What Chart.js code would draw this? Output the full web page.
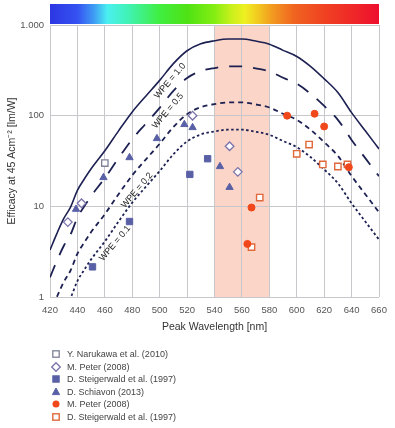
<!DOCTYPE html>
<html><head><meta charset="utf-8">
<script src="https://cdn.jsdelivr.net/npm/chart.js@4/dist/chart.umd.min.js"></script>
<style>
html,body{margin:0;padding:0;background:#fff;}
#wrap{position:absolute;left:0;top:0;width:395px;height:336px;}
#legend{position:absolute;left:0;top:0;width:395px;height:428px;pointer-events:none;font-family:"Liberation Sans",Arial,Helvetica,sans-serif;font-size:9px;color:#444;}
.item{position:absolute;left:50px;height:12px;line-height:12px;white-space:nowrap;}
.item svg{position:absolute;left:0;top:0;}
.item span{position:absolute;left:17px;top:0;}
</style></head><body>
<div id="wrap"><canvas id="c"></canvas></div>
<div id="legend"></div>
<script>
// ---- data ----
const curveWavelengths = [420,425,430,435,440,445,450,460,470,480,490,500,510,520,530,540,550,560,570,580,590,600,610,620,630,640,650,660];
const wpe10 = [3.3,5.0,7.3,9.8,15,20,26,41,68,110,165,245,375,520,620,670,700,700,665,615,525,450,350,255,180,108,68,43];
const wpe05 = [1.65,2.5,3.65,4.9,7.5,10,13,20.5,34,55,82,122,188,260,310,335,350,350,332,308,262,225,175,128,90,54,34,21.5];
const wpe02 = [0.66,1.0,1.46,1.96,3.0,4.0,5.2,8.2,13.6,22,33,49,75,104,124,134,140,140,133,123,105,90,70,51,36,21.6,13.6,8.6];
const wpe01 = [0.33,0.5,0.73,0.98,1.5,2.0,2.6,4.1,6.8,11,16.5,24.5,37.5,52,62,67,70,70,66.5,61.5,52.5,45,35,25.5,18,10.8,6.8,4.3];

const narukawaX = [460];
const narukawaY = [30];
const peterDiamondX = [433,443,524,551,557];
const peterDiamondY = [6.7,10.8,100,46,24];
const steigerBlueX = [451,478,522,535];
const steigerBlueY = [2.15,6.8,22.5,33.5];
const schiavonX = [439,459,478,498,518,524,544,551];
const schiavonY = [9.3,20.8,34.5,56,80,74,27.5,16.2];
const peterCircleX = [593,613,620,638,567,564];
const peterCircleY = [100,105,76,27,9.7,3.85];
const steigerOrangeX = [600,609,619,630,637,573,567];
const steigerOrangeY = [38,48,29,27.5,29,12.5,3.55];

const seriesNames = ["Y. Narukawa et al. (2010)","M. Peter (2008)","D. Steigerwald et al. (1997)","D. Schiavon (2013)","M. Peter (2008)","D. Steigerwald et al. (1997)"];
const curveLabels = ["WPE = 1.0","WPE = 0.5","WPE = 0.2","WPE = 0.1"];
const curveLabelX = [507.6,506,483.5,467.4];
const curveLabelY = [242,113,15,3.9];
const yTickValues = [1,10,100,1000];
const yTickLabels = ["1","10","100","1.000"];
const xMin = 420, xMax = 660, xStep = 20;
const bandStart = 540, bandEnd = 580;
const spectrumStops = [[420,'#2c36e2'],[440,'#3552f2'],[452,'#3f9cf4'],[462,'#4af0f0'],[478,'#40f2b0'],[500,'#40ee40'],[520,'#4ee214'],[540,'#84ee12'],[552,'#c8f01c'],[562,'#eef020'],[572,'#f2c820'],[582,'#f29a20'],[598,'#f06420'],[620,'#f04222'],[660,'#ee0f2e']];

// ---- build ----
const pts = (xs, ys) => xs.map((x,i)=>({x, y: ys[i]}));
const curveColor = '#1c2152';
function curve(vals, dash, width){
  return {type:'line', data: pts(curveWavelengths, vals), borderColor: curveColor, borderWidth: width,
    borderDash: dash, pointRadius: 0, fill:false, cubicInterpolationMode:'monotone', order: 10};
}
function scat(xs, ys, style, r, bg, bc, bw, order){
  return {type:'scatter', data: pts(xs, ys), showLine:false, pointStyle: style, pointRadius: r,
    pointHoverRadius: r, backgroundColor: bg, borderColor: bc, borderWidth: bw, order};
}
const markers = [
  {style:'rect', r:4.5, bg:'#ffffff', bc:'#7d8296', bw:1.3},
  {style:'rectRot', r:4.3, bg:'#ffffff', bc:'#7a72aa', bw:1.3},
  {style:'rect', r:4.5, bg:'#5960a6', bc:'#5960a6', bw:1},
  {style:'triangle', r:4.2, bg:'#5960a6', bc:'#5960a6', bw:1},
  {style:'circle', r:3.5, bg:'#f0481a', bc:'#f0481a', bw:1},
  {style:'rect', r:4.5, bg:'#ffffff', bc:'#e0683a', bw:1.4},
];
const seriesXs = [narukawaX, peterDiamondX, steigerBlueX, schiavonX, peterCircleX, steigerOrangeX];
const seriesYs = [narukawaY, peterDiamondY, steigerBlueY, schiavonY, peterCircleY, steigerOrangeY];

const datasets = [
  curve(wpe10, [], 1.6),
  curve(wpe05, [13,11], 1.8),
  curve(wpe02, [5,4], 1.8),
  curve(wpe01, [2.5,2.5], 1.8),
];
seriesXs.forEach((xs,i)=>{
  const m = markers[i];
  datasets.push(scat(xs, seriesYs[i], m.style, m.r, m.bg, m.bc, m.bw, i===4 ? 1 : 2 + i));
  datasets[datasets.length-1].label = seriesNames[i];
});

const FONT = '"Liberation Sans", Arial, Helvetica, sans-serif';

const decor = {
  id:'decor',
  beforeDraw(chart){
    const {ctx, chartArea:a, scales:{x}} = chart;
    ctx.save();
    const x1 = x.getPixelForValue(bandStart), x2 = x.getPixelForValue(bandEnd);
    ctx.fillStyle = '#fbd5c8';
    ctx.fillRect(x1, a.top, x2 - x1, a.bottom - a.top);
    const g = ctx.createLinearGradient(a.left, 0, a.right, 0);
    spectrumStops.forEach(([nm,c]) => g.addColorStop((x.getPixelForValue(nm) - a.left)/(a.right - a.left), c));
    ctx.fillStyle = g;
    ctx.fillRect(a.left, a.top - 21, a.right - a.left, 20);
    ctx.restore();
  },
  afterDatasetsDraw(chart){
    const {ctx, scales:{x,y}} = chart;
    ctx.save();
    ctx.font = '9px ' + FONT;
    ctx.fillStyle = '#222';
    ctx.textAlign = 'center';
    ctx.textBaseline = 'middle';
    curveLabels.forEach((t,i)=>{
      ctx.save();
      ctx.translate(x.getPixelForValue(curveLabelX[i]), y.getPixelForValue(curveLabelY[i]));
      ctx.rotate(-50*Math.PI/180);
      ctx.fillText(t, 0, 0);
      ctx.restore();
    });
    ctx.restore();
  }
};

new Chart(document.getElementById('c'), {
  type:'line',
  data:{datasets},
  options:{
    responsive:true, maintainAspectRatio:false, animation:false,
    layout:{padding:{top:25, right:16, left:0, bottom:0}},
    plugins:{legend:{display:false}, tooltip:{enabled:false}},
    scales:{
      x:{type:'linear', min:xMin, max:xMax,
        ticks:{stepSize:xStep, padding:8, color:'#555', font:{family:FONT, size:9.5}},
        grid:{color:'#c8c8cc', drawTicks:false}, border:{display:false},
        title:{display:true, text:'Peak Wavelength [nm]', color:'#333', font:{family:FONT, size:10.5}, padding:{top:0,bottom:3}},
        afterFit(s){ s.height = 39; }
      },
      y:{type:'logarithmic', min:1, max:1000,
        afterBuildTicks(s){ s.ticks = yTickValues.map(v=>({value:v})); },
        ticks:{padding:6, color:'#555', font:{family:FONT, size:9.5},
          callback:(v)=>{ const i = yTickValues.indexOf(v); return i>=0 ? yTickLabels[i] : ''; }},
        grid:{color:'#c8c8cc', drawTicks:false}, border:{display:false},
        title:{display:true, text:'Efficacy at 45 Acm⁻² [lm/W]', color:'#333', font:{family:FONT, size:10.5}, padding:{top:6,bottom:0}},
        afterFit(s){ s.width = 50; }
      }
    }
  },
  plugins:[decor]
});

// ---- HTML legend ----
const legendTops = [348, 360.5, 373, 385.5, 398, 410.5];
const leg = document.getElementById('legend');
function markerSvg(m){
  let shape = '';
  if (m.style === 'rect') shape = `<rect x="2.8" y="2.8" width="6.4" height="6.4" fill="${m.bg}" stroke="${m.bc}" stroke-width="${m.bw}"/>`;
  else if (m.style === 'rectRot') shape = `<polygon points="6,1.7 10.3,6 6,10.3 1.7,6" fill="${m.bg}" stroke="${m.bc}" stroke-width="${m.bw}"/>`;
  else if (m.style === 'triangle') shape = `<polygon points="6,2 9.6,8.6 2.4,8.6" fill="${m.bg}" stroke="${m.bc}" stroke-width="1"/>`;
  else shape = `<circle cx="6" cy="6" r="3.5" fill="${m.bg}"/>`;
  return `<svg width="12" height="12" viewBox="0 0 12 12">${shape}</svg>`;
}
seriesNames.forEach((n,i)=>{
  const d = document.createElement('div');
  d.className = 'item';
  d.style.top = legendTops[i] + 'px';
  d.innerHTML = markerSvg(markers[i]) + '<span></span>';
  d.querySelector('span').textContent = n;
  leg.appendChild(d);
});
</script>
</body></html>
